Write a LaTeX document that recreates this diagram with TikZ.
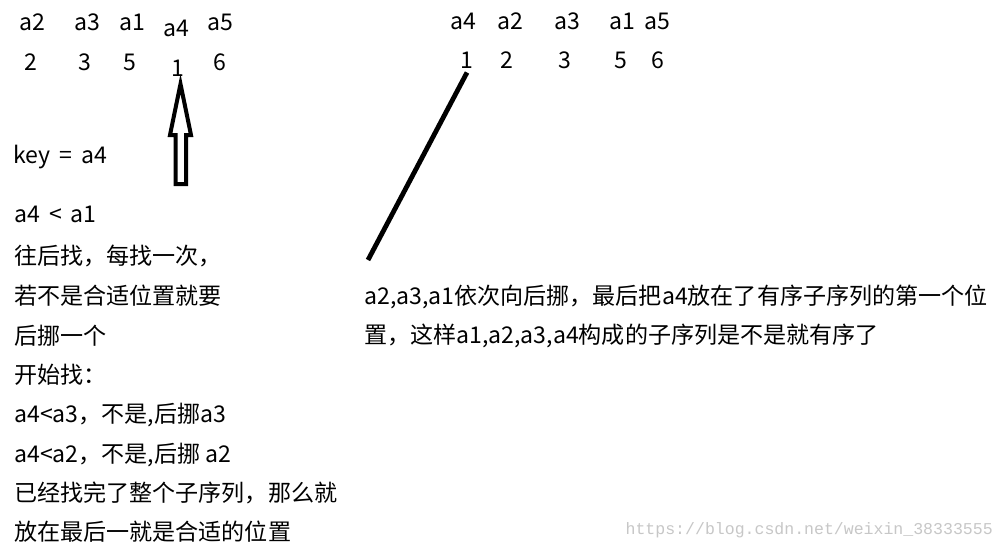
\documentclass[tikz,border=0pt]{standalone}
\usepackage{fontspec}
\setmainfont{Noto Sans CJK SC}
\newfontfamily\wmfont{Liberation Mono}
\usetikzlibrary{positioning}

\tikzset{
lbl/.style={font=\fontsize{17.3}{20}\selectfont,inner sep=0pt},
txt/.style={font=\fontsize{17.3}{20}\selectfont,inner sep=0pt,anchor=west},
}

\begin{document}
\begin{tikzpicture}[x=0.75pt,y=-0.75pt]
\useasboundingbox[fill=white] (0,0) rectangle (1006,551);

% first row, before the move
\node[lbl] (la2) at (32,22) {a2};
\node[lbl] (la3) at (87,22) {a3};
\node[lbl] (la1) at (132,22) {a1};
\node[lbl] (la4) at (176,28) {a4};
\node[lbl] (la5) at (220,22) {a5};
\node[lbl] (l2) at (31,62) {2};
\node[lbl] (l3) at (85,62) {3};
\node[lbl] (l5) at (130,62) {5};
\node[lbl] (l1) at (178,68) {1};
\node[lbl] (l6) at (220,62) {6};

% hollow arrow up to the key
\draw[line width=3pt,line join=miter] (175.5,184) -- (175.5,135) -- (170,135) -- (180.5,84)
  -- (191,135) -- (186,135) -- (186,184) -- cycle;

\node[txt] (key) at (13,157) {key \,=\, a4};
\node[txt] (t1) at (14,214) {a4 \,<\, a1};
\node[txt] (t2) at (14,256) {往后找，每找一次，};
\node[txt] (t3) at (14,296) {若不是合适位置就要};
\node[txt] (t4) at (14,336) {后挪一个};
\node[txt] (t5) at (14,375) {开始找：};
\node[txt] (t6) at (14,415) {a4<a3，不是,后挪a3};
\node[txt] (t7) at (14,455) {a4<a2，不是,后挪 a2};
\node[txt] (t8) at (14,493) {已经找完了整个子序列，那么就};
\node[txt] (t9) at (14,532) {放在最后一就是合适的位置};

% second row, after the move
\node[lbl] (ra4) at (463,21) {a4};
\node[lbl] (ra2) at (510,21) {a2};
\node[lbl] (ra3) at (567,21) {a3};
\node[lbl] (ra1) at (622,21) {a1};
\node[lbl] (ra5) at (657,21) {a5};
\node[lbl] (r1) at (467,60) {1};
\node[lbl] (r2) at (507,60) {2};
\node[lbl] (r3) at (565,60) {3};
\node[lbl] (r5) at (621,60) {5};
\node[lbl] (r6) at (658,60) {6};

\coordinate (lineend) at (368,260);
\draw[line width=3.6pt] ([yshift=-3pt]r1.south) -- (lineend);

\node[txt] (s1) at (364,297) {a2,a3,a1依次向后挪，最后把a4放在了有序子序列的第一个位};
\node[txt] (s2) at (364,336) {置，这样a1,a2,a3,a4构成的子序列是不是就有序了};

\node[anchor=east,inner sep=0pt,text=black!22,font=\wmfont\fontsize{12.4}{14}\selectfont] (wm) at (993,530) {https://blog.csdn.net/weixin\_38333555};
\end{tikzpicture}
\end{document}
